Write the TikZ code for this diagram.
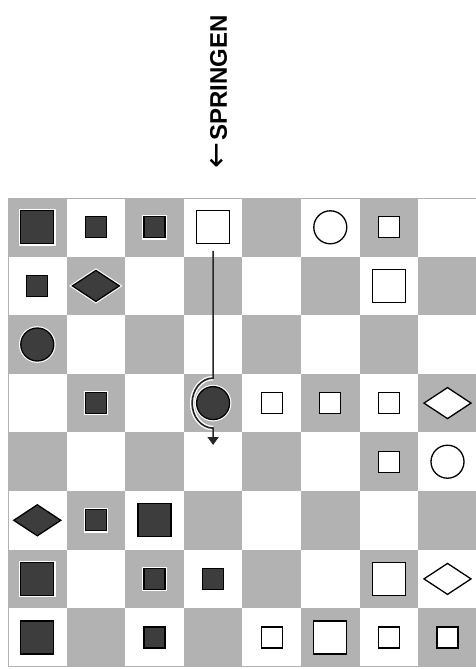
\documentclass[tikz,border=0pt]{standalone}
\usepackage{fontspec}
\setmainfont{Liberation Sans}
\newfontfamily\arrowfont{DejaVu Sans}
\usetikzlibrary{shapes.geometric,arrows.meta}

\definecolor{boardgray}{gray}{0.70}
\definecolor{piecedark}{gray}{0.24}

\tikzset{
  piece/.style={draw=black, line width=1.3pt, inner sep=0pt, outer sep=0pt},
  darkpiece/.style={piece, fill=piecedark, preaction={draw=white, line width=3.6pt}},
  lightpiece/.style={piece, fill=white},
  bigsq/.style={rectangle, minimum size=33pt},
  smallsq/.style={rectangle, minimum size=21pt},
  disc/.style={circle, minimum size=33pt},
  rhomb/.style={diamond, minimum width=47pt, minimum height=31pt},
  jumpline/.style={line width=1.7pt, draw=black!85, -{Triangle[width=11pt,length=8pt]}},
}

\begin{document}
\begin{tikzpicture}[x=1pt, y=-1pt]

        % Page
        \fill[white] (0,0) rectangle (475,669);
        \useasboundingbox (0,0) rectangle (475,669);

        % Board squares
        \foreach \r in {0,...,7}
          \foreach \c in {0,2,4,6} {
            \pgfmathtruncatemacro\cc{\c+mod(\r,2)}
            \fill[boardgray] ({8+58.6*\cc},{198+58.6*\r}) rectangle ++(58.6,58.6);
          }
        \draw[boardgray, line width=0.8pt] (8,198) rectangle (476.8,666.8);

        % Dark pieces
        \foreach \r/\c in {0/0,5/2,6/0,7/0}
          \node[darkpiece, bigsq] (p\r\c) at ({37.3+58.6*\c},{227.3+58.6*\r}) {};
        \foreach \r/\c in {0/1,0/2,1/0,3/1,5/1,6/2,6/3,7/2}
          \node[darkpiece, smallsq] (p\r\c) at ({37.3+58.6*\c},{227.3+58.6*\r}) {};
        \foreach \r/\c in {2/0,3/3}
          \node[darkpiece, disc] (p\r\c) at ({37.3+58.6*\c},{227.3+58.6*\r}) {};
        \foreach \r/\c in {1/1,5/0}
          \node[darkpiece, rhomb] (p\r\c) at ({37.3+58.6*\c},{227.3+58.6*\r}) {};

        % Light pieces
        \foreach \r/\c in {0/3,1/6,6/6,7/5}
          \node[lightpiece, bigsq] (p\r\c) at ({37.3+58.6*\c},{227.3+58.6*\r}) {};
        \foreach \r/\c in {0/6,3/4,3/5,3/6,4/6,7/4,7/6,7/7}
          \node[lightpiece, smallsq] (p\r\c) at ({37.3+58.6*\c},{227.3+58.6*\r}) {};
        \foreach \r/\c in {0/5,4/7}
          \node[lightpiece, disc] (p\r\c) at ({37.3+58.6*\c},{227.3+58.6*\r}) {};
        \foreach \r/\c in {3/7,6/7}
          \node[lightpiece, rhomb] (p\r\c) at ({37.3+58.6*\c},{227.3+58.6*\r}) {};

        % Jump of the light square over the dark disc
        \coordinate (land) at (213.1,445);
        \draw[white, line width=4.5pt] ([yshift=25pt]p33.center)
          arc[start angle=90, end angle=270, x radius=21pt, y radius=25pt];
        \draw[jumpline] ([yshift=-7pt]p03.south) -- ([yshift=25pt]p33.center)
          arc[start angle=90, end angle=270, x radius=21pt, y radius=25pt] -- (land);

        % Heading
        \node[font=\bfseries\fontsize{24}{28}\selectfont, rotate=90, inner sep=0pt] (title) at (218.5,92)
          {{\arrowfont\fontsize{31}{31}\selectfont\mdseries ←}\kern1.5pt SPRINGEN};

\end{tikzpicture}
\end{document}
